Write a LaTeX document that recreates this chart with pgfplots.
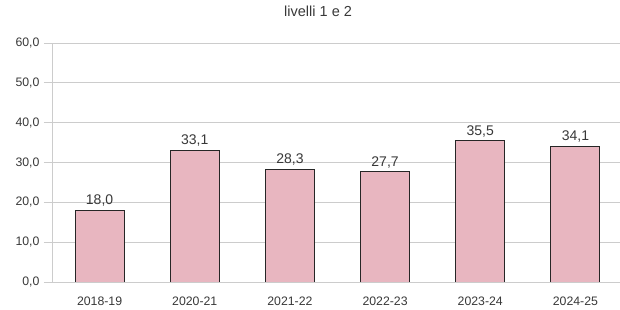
\documentclass[border=0pt]{standalone}
\usepackage{pgfplots}
\pgfplotsset{compat=1.18}
\usepackage{fontspec}
\setmainfont{Liberation Sans}
\definecolor{barpink}{HTML}{E8B6C0}
\definecolor{gridgray}{HTML}{CCCCCC}
\definecolor{txt}{HTML}{383838}
\begin{document}
\begin{tikzpicture}
\useasboundingbox (-52bp,-28bp) rectangle (568bp,282bp);
\begin{axis}[
  at={(0,0)}, anchor=south west,
  scale only axis, width=571bp, height=239bp,
  xmin=-0.5, xmax=5.5, ymin=0, ymax=60,
  ytick={0,10,...,60},
  xtick={0,1,2,3,4,5},
  xticklabels={2018-19,2020-21,2021-22,2022-23,2023-24,2024-25},
  extra x ticks={0.5,1.5,2.5,3.5,4.5},
  extra x tick labels={},
  extra x tick style={major tick length=4bp, tick style={gridgray, line width=0.8pt}, grid=none},
  major x tick style={draw=none},
  ymajorgrids, grid style={gridgray, line width=0.7pt},
  axis x line*=bottom, axis y line*=left,
  axis line style={gridgray, line width=0.8pt, -},
  ytick style={gridgray, line width=0.8pt},
  tick align=outside, major tick length=8bp,
  yticklabel style={/tikz/xshift=-1bp, /pgf/number format/.cd, fixed, fixed zerofill, precision=1, use comma},
  xticklabel style={/tikz/yshift=-3bp},
  /pgf/number format/assume math mode=true,
  tick label style={font=\fontsize{12.3bp}{14bp}\selectfont, text=txt},
  ybar, bar width=49bp,
  nodes near coords,
  nodes near coords style={font=\fontsize{14bp}{16bp}\selectfont, text=txt, /pgf/number format/.cd, fixed, fixed zerofill, precision=1, use comma, assume math mode=true},
  title={livelli 1 e 2},
  title style={font=\fontsize{14.5bp}{16bp}\selectfont, text=txt, at={(0.466,1)}, anchor=base, yshift=21bp},
]
\addplot[fill=barpink, draw=black!85, line width=0.9pt] coordinates {(0,18.0) (1,33.1) (2,28.3) (3,27.7) (4,35.5) (5,34.1)};
\end{axis}
\end{tikzpicture}
\end{document}
